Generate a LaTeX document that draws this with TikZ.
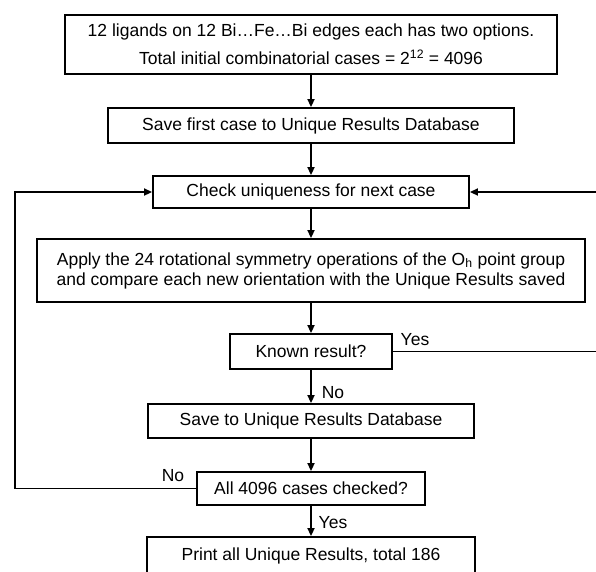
\documentclass[tikz,border=0pt]{standalone}
\usepackage{fontspec}
\setmainfont{Liberation Sans}
\usetikzlibrary{arrows.meta}
\begin{document}
\begin{tikzpicture}[x=1pt,y=-1pt,
  stepbox/.style={draw, line width=1.9pt, inner sep=0pt, align=center, font=\fontsize{17.5}{20}\selectfont},
  flow/.style={line width=1.9pt, -{Triangle[length=8pt,width=7pt]}},
  lbl/.style={font=\fontsize{17.5}{20}\selectfont, inner sep=0pt}]
\useasboundingbox (0,0) rectangle (596,571);
\clip (0,0) rectangle (596,571);
\node[stepbox, minimum width=492pt, minimum height=59pt] (n1) at (311,44.5)
  {12 ligands on 12 Bi…Fe…Bi edges each has two options.\\[8pt]
   Total initial combinatorial cases = 2\textsuperscript{12} = 4096};
\node[stepbox, minimum width=406pt, minimum height=35pt] (n2) at (311,125.5)
  {Save first case to Unique Results Database};
\node[stepbox, minimum width=316pt, minimum height=32pt] (n3) at (311,192)
  {Check uniqueness for next case};
\node[stepbox, minimum width=548pt, minimum height=63pt] (n4) at (311,270.5)
  {Apply the 24 rotational symmetry operations of the O\textsubscript{h} point group\\
   and compare each new orientation with the Unique Results saved};
\node[stepbox, minimum width=162pt, minimum height=35pt] (n5) at (311,351.5)
  {Known result?};
\node[stepbox, minimum width=326pt, minimum height=34pt] (n6) at (311,421)
  {Save to Unique Results Database};
\node[stepbox, minimum width=228pt, minimum height=33pt] (n7) at (311,488.5)
  {All 4096 cases checked?};
\node[stepbox, minimum width=328pt, minimum height=38pt] (n8) at (311,556)
  {Print all Unique Results, total 186};
\coordinate (r1) at (610,351.5);
\coordinate (r2) at (610,192);
\coordinate (l1) at (15,488.5);
\coordinate (l2) at (15,192);
\draw[flow] (n1) -- (n2);
\draw[flow] (n2) -- (n3);
\draw[flow] (n3) -- (n4);
\draw[flow] (n4) -- (n5);
\draw[flow] (n5) -- (n6);
\draw[flow] (n6) -- (n7);
\draw[flow] (n7) -- (n8);
\draw[flow] (n5.east) -- (r1) -- (r2) -- (n3.east);
\draw[flow] (n7.west) -- (l1) -- (l2) -- (n3.west);
\node[lbl] (yes1) at (415,340) {Yes};
\node[lbl] (no1) at (333,393) {No};
\node[lbl] (no2) at (173,476) {No};
\node[lbl] (yes2) at (333,523) {Yes};
\end{tikzpicture}
\end{document}
